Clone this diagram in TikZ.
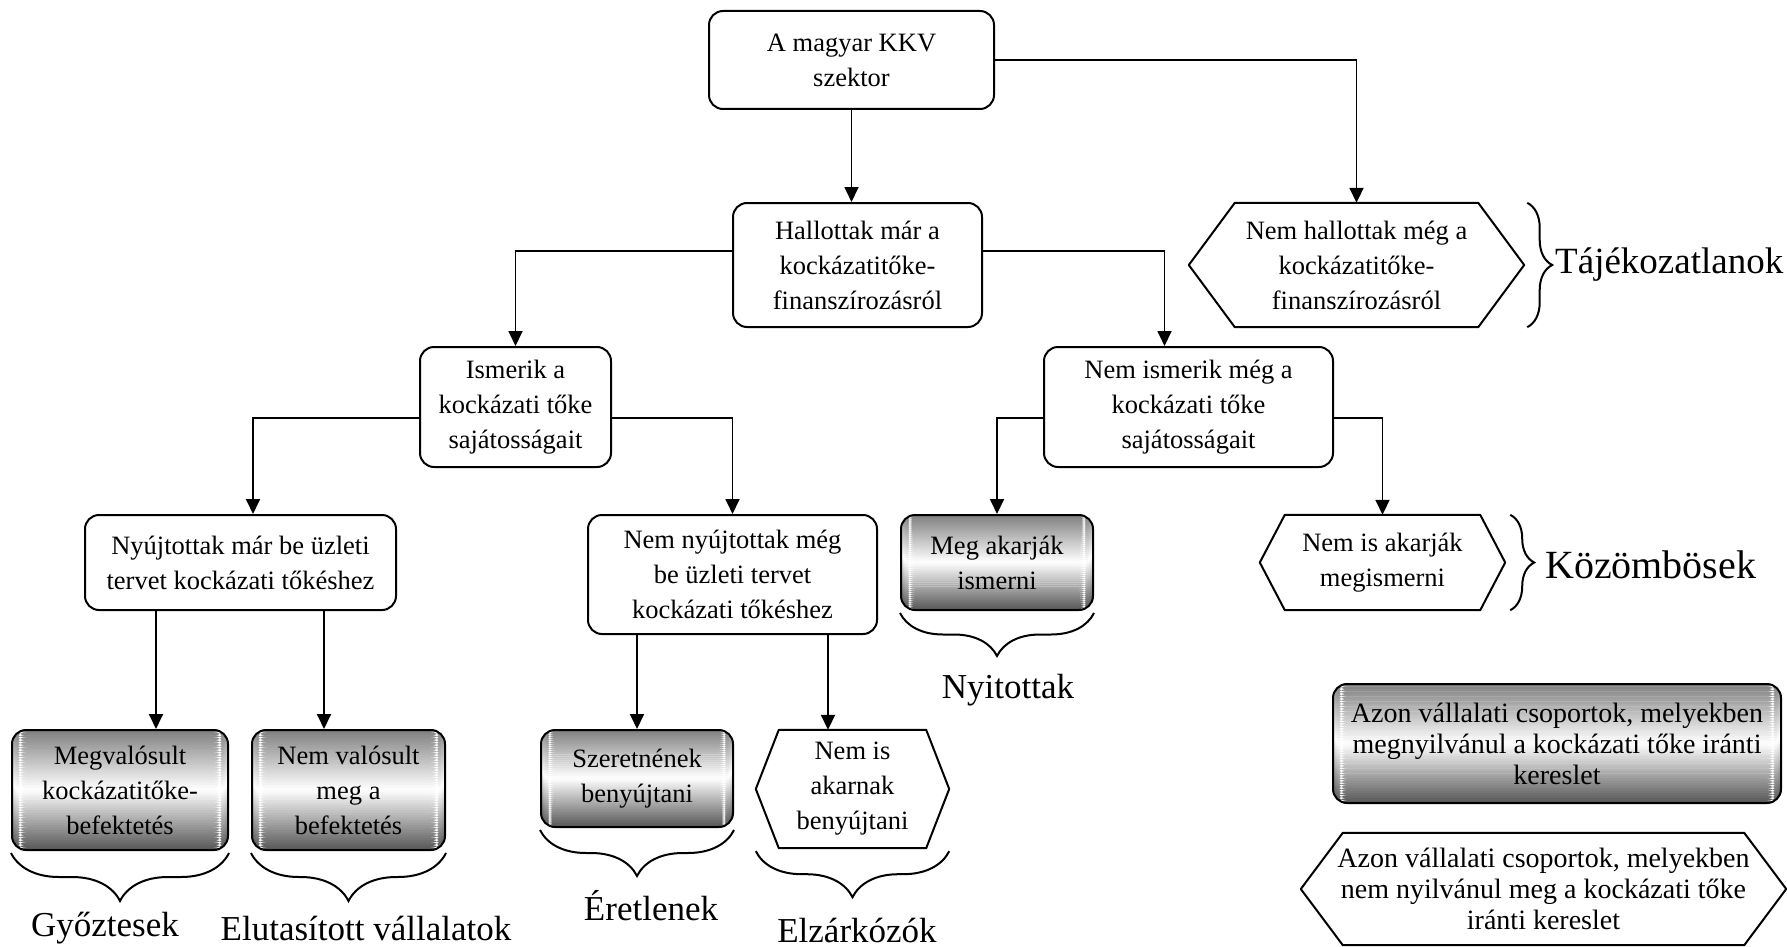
\documentclass[tikz,border=0pt]{standalone}
\usepackage{fontspec}
\setmainfont{Liberation Serif}
\usetikzlibrary{arrows.meta,decorations.pathreplacing,calc}

% hexagon frame round a (borderless) node: name, inset
\newcommand{\hexframe}[2]{%
  \draw[line width=2pt,line join=round] (#1.west) -- ([xshift=#2]#1.north west)
    -- ([xshift=-#2]#1.north east) -- (#1.east) -- ([xshift=-#2]#1.south east)
    -- ([xshift=#2]#1.south west) -- cycle;}

% grey-white-grey strips, used inside a path picture
\newcommand{\gradstrips}{%
  \foreach \k in {0,...,47}{
    \pgfmathsetmacro{\shadepct}{\k<24 ? 50*(1-(\k+0.5)/24) : 66*((\k+0.5)/24-1)}
    \pgfmathsetmacro{\kfrom}{\k/48}
    \pgfmathsetmacro{\kto}{(\k+1.1)/48}
    \fill[black!\shadepct] ($(path picture bounding box.north west)!\kfrom!(path picture bounding box.south west)$)
      rectangle ($(path picture bounding box.north east)!\kto!(path picture bounding box.south east)$);
  }}

\begin{document}
\begin{tikzpicture}[x=1pt,y=-1pt,
  txt/.style={inner sep=0pt,align=center,font=\fontsize{26.5}{35}\selectfont},
  box/.style={txt,draw,line width=2pt,rounded corners=14pt},
  gbox/.style={box,path picture={\gradstrips}},
  hbox/.style={txt},
  legtxt/.style={font=\fontsize{28}{31}\selectfont},
  arr/.style={line width=1.8pt,-{Triangle[length=15pt,width=14pt]}},
  brd/.style={line width=2pt,decorate,decoration={brace,mirror,amplitude=#1}},
  brr/.style={line width=2pt,decorate,decoration={brace,amplitude=#1}},
  lab/.style={inner sep=0pt,font=\fontsize{35}{40}\selectfont}]

\useasboundingbox (0,0) rectangle (1787,947);

\draw (851.5,60) node(TOP)[box,minimum width=285pt,minimum height=98pt]{A magyar KKV\\szektor};
\draw (857.5,265) node(HALL)[box,minimum width=249pt,minimum height=124pt]{Hallottak már a\\kockázatitőke-\\finanszírozásról};
\draw (1356.5,265) node(NHALL)[hbox,minimum width=335pt,minimum height=124pt]{Nem hallottak még a\\kockázatitőke-\\finanszírozásról};
\draw (515.5,407) node(ISM)[box,minimum width=191pt,minimum height=120pt]{Ismerik a\\kockázati tőke\\sajátosságait};
\draw (1188.5,407) node(NISM)[box,minimum width=289pt,minimum height=120pt]{Nem ismerik még a\\kockázati tőke\\sajátosságait};
\draw (240.5,562.5) node(NYUJT)[box,minimum width=311pt,minimum height=95pt]{Nyújtottak már be üzleti\\tervet kockázati tőkéshez};
\draw (732.5,574.5) node(NNYUJT)[box,minimum width=289pt,minimum height=119pt]{Nem nyújtottak még\\be üzleti tervet\\kockázati tőkéshez};
\draw (997,562.5) node(MEG)[gbox,minimum width=192pt,minimum height=95pt]{Meg akarják\\ismerni};
\draw (1382.5,562.5) node(NEMIS)[hbox,minimum width=245pt,minimum height=95pt]{Nem is akarják\\megismerni};
\draw (120,790) node(MEGV)[gbox,minimum width=216pt,minimum height=120pt]{Megvalósult\\kockázatitőke-\\befektetés};
\draw (348.5,790) node(NEMV)[gbox,minimum width=193pt,minimum height=120pt]{Nem valósult\\meg a\\befektetés};
\draw (637,778.5) node(SZER)[gbox,minimum width=192pt,minimum height=97pt]{Szeretnének\\benyújtani};
\draw (852.5,789) node(NEMAK)[hbox,minimum width=193pt,minimum height=118pt]{Nem is\\akarnak\\benyújtani};

\draw (1557,743.5) node(LEGY)[gbox,legtxt,minimum width=448pt,minimum height=119pt]{Azon vállalati csoportok, melyekben\\megnyilvánul a kockázati tőke iránti\\kereslet};
\draw (1543.5,889) node(LEGN)[hbox,legtxt,minimum width=485pt,minimum height=112pt]{Azon vállalati csoportok, melyekben\\nem nyilvánul meg a kockázati tőke\\iránti kereslet};

\hexframe{NHALL}{46pt}
\hexframe{NEMIS}{25pt}
\hexframe{NEMAK}{23pt}
\hexframe{LEGN}{42pt}

\draw[arr] (TOP.south) -- (TOP.south |- HALL.north);
\draw[arr] (TOP.east) -| (NHALL.north);
\draw[arr] ([yshift=14pt]HALL.west) -| (ISM.north);
\draw[arr] ([yshift=14pt]HALL.east) -| ([xshift=-24pt]NISM.north);
\draw[arr] ([yshift=-11pt]ISM.west) -| ([xshift=12.5pt]NYUJT.north);
\draw[arr] ([yshift=-11pt]ISM.east) -| (NNYUJT.north);
\draw[arr] ([yshift=-11pt]NISM.west) -| (MEG.north);
\draw[arr] ([yshift=-11pt]NISM.east) -| (NEMIS.north);
\draw[arr] ([xshift=-84.5pt]NYUJT.south) -- ([xshift=36pt]MEGV.north);
\draw[arr] ([xshift=83.5pt]NYUJT.south) -- ([xshift=-24.5pt]NEMV.north);
\draw[arr] ([xshift=-95.5pt]NNYUJT.south) -- (SZER.north);
\draw[arr] ([xshift=95.5pt]NNYUJT.south) -- ([xshift=-24.5pt]NEMAK.north);

\draw[brd=48pt] ([yshift=-2pt]MEGV.south west) -- ([yshift=-2pt]MEGV.south east);
\draw[brd=48pt] ([yshift=-2pt]NEMV.south west) -- ([yshift=-2pt]NEMV.south east);
\draw[brd=46pt] ([yshift=-2pt]SZER.south west) -- ([yshift=-2pt]SZER.south east);
\draw[brd=46pt] ([yshift=-3pt]NEMAK.south west) -- ([yshift=-3pt]NEMAK.south east);
\draw[brd=43pt] ([yshift=-2pt]MEG.south west) -- ([yshift=-2pt]MEG.south east);
\draw[brr=25pt] ([xshift=3pt]NHALL.north east) -- ([xshift=3pt]NHALL.south east);
\draw[brr=24pt] ([xshift=5pt]NEMIS.north east) -- ([xshift=5pt]NEMIS.south east);

\draw (105,928) node(GYOZ)[lab]{Győztesek};
\draw (366,928) node(ELUT)[lab]{Elutasított vállalatok};
\draw (651,906) node(ERET)[lab]{Éretlenek};
\draw (857,930) node(ELZAR)[lab]{Elzárkózók};
\draw (1008,690) node(NYIT)[lab]{Nyitottak};
\draw (1545,565) node(KOZOMB)[lab,anchor=west,font=\fontsize{40}{44}\selectfont]{Közömbösek};
\draw (1555,265) node(TAJEK)[lab,anchor=west,font=\fontsize{37}{42}\selectfont]{Tájékozatlanok};

\end{tikzpicture}
\end{document}
